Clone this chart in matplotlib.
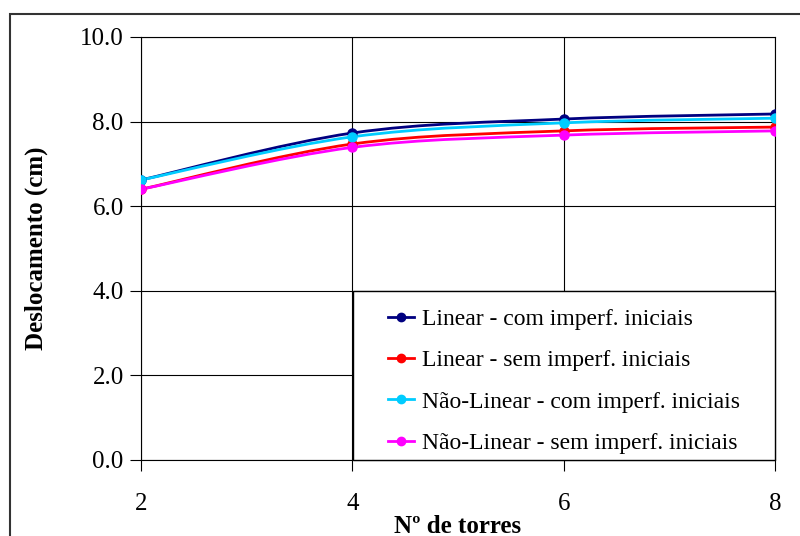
import numpy as np
import matplotlib.pyplot as plt
from matplotlib.path import Path
from matplotlib.patches import PathPatch, Rectangle
from matplotlib.lines import Line2D

plt.rcParams['font.family'] = ['Liberation Serif', 'DejaVu Serif']

torres = [2, 4, 6, 8]
lin_com = [6.62, 7.73, 8.06, 8.18]
lin_sem = [6.40, 7.47, 7.78, 7.87]
nl_com = [6.62, 7.64, 7.97, 8.08]
nl_sem = [6.40, 7.39, 7.68, 7.78]

labels = ["Linear - com imperf. iniciais",
          "Linear - sem imperf. iniciais",
          "Não-Linear - com imperf. iniciais",
          "Não-Linear - sem imperf. iniciais"]
colors = ["#000080", "#FF0000", "#00CCFF", "#FF00FF"]
series = [lin_com, lin_sem, nl_com, nl_sem]


def smooth_path(x, y):
    '''Excel-like smoothed line: cubic Bezier through the points'''
    x = np.asarray(x, float)
    y = np.asarray(y, float)
    n = len(x)
    verts = [(x[0], y[0])]
    codes = [Path.MOVETO]
    for i in range(n - 1):
        i0 = max(i - 1, 0)
        i3 = min(i + 2, n - 1)
        c1 = (x[i] + (x[i + 1] - x[i0]) / 6, y[i] + (y[i + 1] - y[i0]) / 6)
        c2 = (x[i + 1] - (x[i3] - x[i]) / 6, y[i + 1] - (y[i3] - y[i]) / 6)
        verts += [c1, c2, (x[i + 1], y[i + 1])]
        codes += [Path.CURVE4] * 3
    return Path(verts, codes)


fig = plt.figure(figsize=(8, 5.36), dpi=100)
ax = fig.add_axes([0.17625, 0.1418, 0.7925, 0.7892])

# outer chart frame
fig.patches.append(Rectangle((10 / 800, -0.1), 1.0, 1 - 14 / 536 + 0.1,
                             transform=fig.transFigure, fill=False,
                             edgecolor="#333333", linewidth=1.5, zorder=0))

handles = []
for ys, col, lab in zip(series, colors, labels):
    ax.add_patch(PathPatch(smooth_path(torres, ys), facecolor="none",
                           edgecolor=col, linewidth=2, zorder=3))
    ax.plot(torres, ys, "o", color=col, markersize=6.5, zorder=4)
    handles.append(Line2D([], [], color=col, linewidth=2, marker="o",
                          markersize=6, label=lab))

ax.set_xlim(2, 8)
ax.set_ylim(0, 10)
ax.set_xticks([2, 4, 6, 8])
ax.set_yticks(np.arange(0, 10.1, 2))
ax.set_yticklabels([f"{v:.1f}" for v in np.arange(0, 10.1, 2)])
ax.grid(True, color="black", linewidth=0.8)
ax.set_axisbelow(True)
for s in ax.spines.values():
    s.set_color("black")
    s.set_linewidth(0.8)
ax.tick_params(axis="both", labelsize=18, direction="out", length=8,
               width=0.8, color="black")
ax.tick_params(axis="x", pad=15.5)
ax.tick_params(axis="y", pad=4.5)

ax.set_xlabel("Nº de torres", fontsize=18, fontweight="bold", labelpad=0)
ax.set_ylabel("Deslocamento (cm)", fontsize=18, fontweight="bold", labelpad=23)

# legend box
ax.add_patch(Rectangle((0.334, 0.0), 0.666, 0.4, transform=ax.transAxes,
                       facecolor="white", edgecolor="black", linewidth=1.0,
                       zorder=4.5, clip_on=False))
leg = ax.legend(handles=handles, loc="upper left",
                bbox_to_anchor=(0.3896, 0.3585), frameon=False,
                fontsize=17, borderaxespad=0, borderpad=0,
                handlelength=1.1, handletextpad=0.34, labelspacing=0.84)
leg.set_zorder(5)

plt.savefig("out.png", dpi=100)
